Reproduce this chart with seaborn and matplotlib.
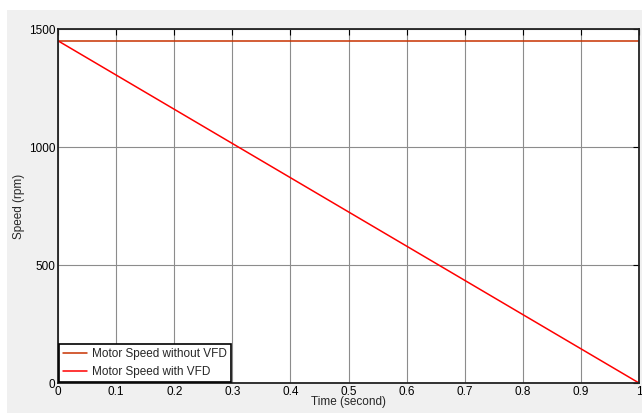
import numpy as np
import pandas as pd
import matplotlib
matplotlib.use("Agg")
import matplotlib.pyplot as plt
import seaborn as sns
from matplotlib.patches import Rectangle

time = [0.0, 1.0]
speed_without_vfd = [1450, 1450]
speed_with_vfd = [1450, 0]
series_names = ["Motor Speed without VFD", "Motor Speed with VFD"]
x_ticks = [0, 0.1, 0.2, 0.3, 0.4, 0.5, 0.6, 0.7, 0.8, 0.9, 1]
x_tick_labels = ["0", "0.1", "0.2", "0.3", "0.4", "0.5", "0.6", "0.7", "0.8", "0.9", "1"]
y_ticks = [0, 500, 1000, 1500]

sns.set_style("white")
plt.rcParams['font.family'] = ['Liberation Sans', 'DejaVu Sans']

df = pd.DataFrame({
    "Time": time + time,
    "Speed": speed_without_vfd + speed_with_vfd,
    "Series": [series_names[0]] * 2 + [series_names[1]] * 2,
})

W, H = 642, 413
fig = plt.figure(figsize=(W/100, H/100), dpi=100, facecolor="#f0f0f0")
# white strips at top and left of the screenshot
fig.patches.append(Rectangle((0, 1-10/H), 1, 10/H, transform=fig.transFigure,
                             facecolor="white", edgecolor="none", zorder=-1))
fig.patches.append(Rectangle((0, 0), 7/W, 1, transform=fig.transFigure,
                             facecolor="white", edgecolor="none", zorder=-1))
ax = fig.add_axes([58/W, 1-383/H, (639-58)/W, (383-29)/H])
ax.set_facecolor("white")

sns.lineplot(data=df, x="Time", y="Speed", hue="Series",
             palette={series_names[0]: "#c83200", series_names[1]: "#ff0000"},
             linewidth=1.1, ax=ax)

fs = 8.5
ax.set_xlim(0, 1)
ax.set_ylim(0, 1500)
ax.set_xticks(x_ticks)
ax.set_xticklabels(x_tick_labels)
ax.set_yticks(y_ticks)
ax.grid(True, color="#8c8c8c", linewidth=0.8, linestyle="-")
ax.set_axisbelow(True)
ax.tick_params(direction="in", length=4, width=0.8, labelsize=fs, colors="black",
               top=True, right=True, pad=2)
for s in ax.spines.values():
    s.set_color("#222222")
    s.set_linewidth(1.3)
ax.set_xlabel("Time (second)", fontsize=fs, labelpad=-1)
ax.set_ylabel("Speed (rpm)", fontsize=fs, labelpad=3)

leg = ax.legend(loc="lower left", fontsize=fs, frameon=True, fancybox=False,
                borderaxespad=0.1, handlelength=2.0, handletextpad=0.4,
                borderpad=0.35, labelspacing=0.45)
leg.get_frame().set_edgecolor("black")
leg.get_frame().set_linewidth(1.2)
leg.get_frame().set_alpha(1)

fig.savefig("out.png", dpi=100, facecolor=fig.get_facecolor())
